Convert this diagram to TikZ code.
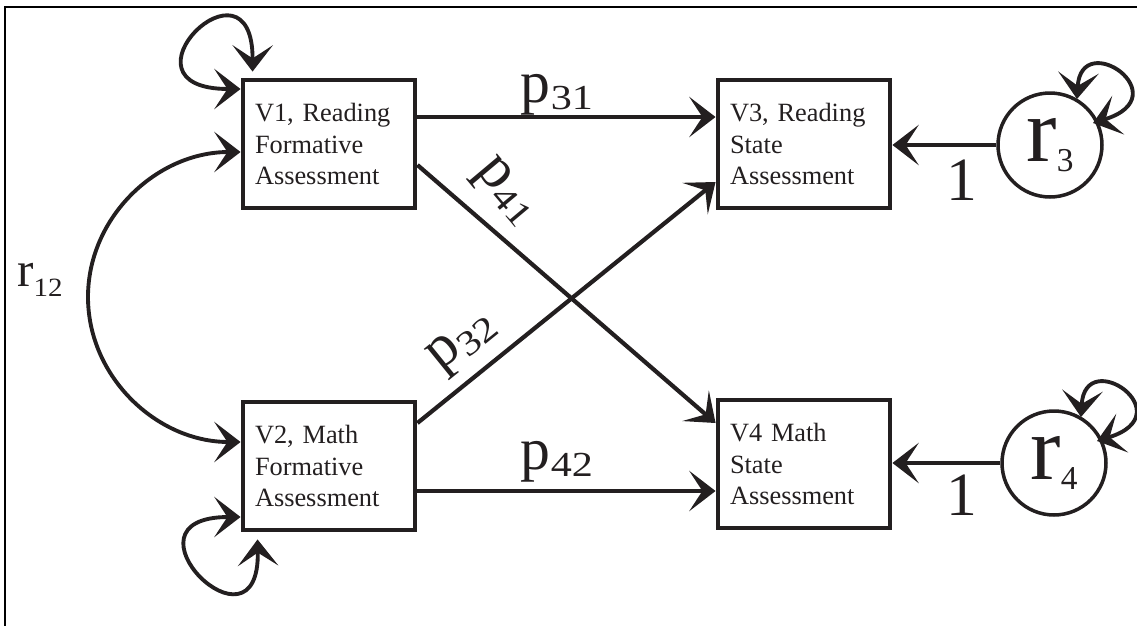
\documentclass[tikz,border=0pt]{standalone}
\usepackage{fontspec}
\setmainfont{Liberation Serif}
\usetikzlibrary{arrows.meta,calc}
\definecolor{ink}{HTML}{231F20}
\newcommand{\sublbl}[6]{{\fontsize{#1}{#1}\selectfont #3}\raisebox{-#5}{\scalebox{#6}[1]{\fontsize{#2}{#2}\selectfont #4}}}
\begin{document}
\begin{tikzpicture}[x=0.02cm,y=-0.02cm,
  box/.style={draw=ink, line width=2.8pt, minimum width=3.44cm, minimum height=2.56cm,
    text width=2.96cm, align=left, inner sep=0pt, text=ink, font=\fontsize{15}{18}\selectfont},
  circ/.style={circle, draw=ink, line width=2pt, minimum size=2.08cm, inner sep=0pt, text=ink},
  arr/.style={draw=ink, line width=2.4pt, -{Stealth[length=15pt,width=23pt,inset=7.5pt]}},
  dbl/.style={draw=ink, line width=2.2pt, {Stealth[length=15pt,width=23pt,inset=7.5pt]}-{Stealth[length=15pt,width=23pt,inset=7.5pt]}},
  lbl/.style={text=ink, inner sep=0pt},
  frame/.style={draw=black, line width=1.2pt}]
\useasboundingbox (0,0) rectangle (1137,626);
\draw[frame] (5,626) -- (5,7) -- (1137,7);

\node[box] (V1) at (329,144) {V1, Reading\\Formative\\Assessment};
\node[box] (V2) at (329,466) {V2, Math\\Formative\\Assessment};
\node[box] (V3) at (804,144) {V3, Reading\\State\\Assessment};
\node[box] (V4) at (804,464) {V4 Math\\State\\Assessment};

\node[circ] (r3) at (1050,145) {\sublbl{52}{19}{r}{3}{5.7pt}{1}};
\node[circ] (r4) at (1054,463) {\sublbl{52}{19}{r}{4}{5.7pt}{1}};

% paths
\draw[arr] ($(V1.east)+(0,-27)$) -- ($(V3.west)+(0,-27)$);
\draw[arr] ($(V2.east)+(0,25)$) -- ($(V4.west)+(0,27)$);
\draw[arr] ($(V1.east)+(0,21)$) -- ($(V4.west)+(0,-41)$);
\draw[arr] ($(V2.east)+(0,-43)$) -- ($(V3.west)+(0,38)$);
\draw[arr] (r3.west) -- (V3.east |- r3.west);
\draw[arr] (r4.west) -- (V4.east |- r4.west);

% correlation r12
\coordinate (m12) at (88,297);
\draw[dbl] ($(V1.west)+(0,8)$) .. controls (157,152) and (88,217) .. (m12)
  .. controls (88,377) and (157,442) .. ($(V2.west)+(0,-24)$);

% self loops
\draw[dbl] ($(V1.west)+(0,-55)$) .. controls (108,89) and (253,-55) .. ($(V1.north west)+(12,-6)$);
\draw[dbl] ($(V2.west)+(0,51)$) .. controls (111,517) and (260,665) .. ($(V2.south west)+(17,7)$);
\draw[dbl] ($(r4.center)+(27,-46)$) .. controls (1085,345) and (1184,414) .. ($(r4.center)+(43,-22)$);
\draw[dbl] ($(r3.center)+(27,-46)$) .. controls (1081,27) and (1180,96) .. ($(r3.center)+(43,-22)$);

% labels
\node[lbl] (l31) at (557,95) {\sublbl{34}{20}{p}{31}{4pt}{1.2}};
\node[lbl] (l42) at (557,462) {\sublbl{34}{20}{p}{42}{4pt}{1.2}};
\node[lbl, rotate=-50] (l41) at (505,193) {\sublbl{34}{20}{p}{41}{4pt}{1.2}};
\node[lbl, rotate=39] (l32) at (464,343) {\sublbl{34}{20}{p}{32}{4pt}{1.2}};
\node[lbl] (l12) at (40,280) {\sublbl{28}{15}{r}{12}{6pt}{1.1}};
\node[lbl] (one3) at (962,180) {\fontsize{35}{35}\selectfont 1};
\node[lbl] (one4) at (962,495) {\fontsize{35}{35}\selectfont 1};
\end{tikzpicture}
\end{document}
